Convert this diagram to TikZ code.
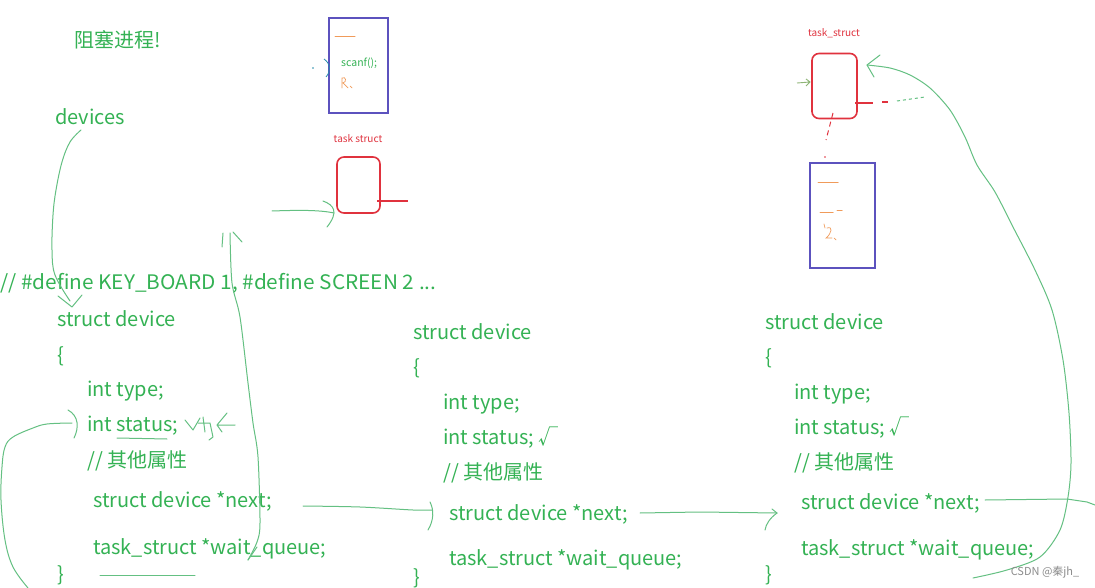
\documentclass[tikz,border=0pt]{standalone}
\usepackage{fontspec}
\setmainfont{Noto Sans CJK SC}
\usetikzlibrary{arrows.meta}
\definecolor{txtg}{RGB}{52,178,84}
\definecolor{peng}{RGB}{100,192,130}
\definecolor{tred}{RGB}{224,50,62}
\definecolor{bbox}{RGB}{92,82,190}
\definecolor{oran}{RGB}{240,155,90}
\definecolor{tealb}{RGB}{40,140,170}
\begin{document}
\begin{tikzpicture}[x=1pt,y=-1pt,
  code/.style={anchor=west,inner sep=0pt,yshift=-4.5pt,text=txtg,text height=0.75em,text depth=0.2em,font=\fontsize{20}{20}\selectfont},
  small/.style={inner sep=0pt,font=\fontsize{10}{10}\selectfont},
  pen/.style={draw=peng,line width=1pt,line cap=round,line join=round},
  redbox/.style={draw=tred,line width=1.6pt,rounded corners=7pt},
  bluebox/.style={draw=bbox,line width=1.6pt},
  orpen/.style={draw=oran,line width=1pt,line cap=round}]
\useasboundingbox (0,0) rectangle (1095,588);
\fill[white] (0,0) rectangle (1095,588);

% ---- titles ----
\node[code] (title) at (74,40) {阻塞进程!};
\node[code] (devs) at (55,117) {devices};
\node[code,xscale=1.04,transform shape] (def) at (0,282) {// \#define KEY\_BOARD 1, \#define SCREEN 2 ...};

% ---- left struct ----
\node[code] (l1) at (57,319) {struct device};
\node[code] (l2) at (57,355) {\{};
\node[code] (l3) at (87,389) {int type;};
\node[code] (l4) at (87,424) {int status;};
\node[code] (l5) at (87,460) {// 其他属性};
\node[code] (l6) at (93,500) {struct device *next;};
\node[code] (l7) at (93,547) {task\_struct *wait\_queue;};
\node[code] (l8) at (57,574) {\}};

% ---- middle struct ----
\node[code] (m1) at (413,332) {struct device};
\node[code] (m2) at (413,367) {\{};
\node[code] (m3) at (443,402) {int type;};
\node[code] (m4) at (443,437) {int status; √};
\node[code] (m5) at (443,472) {// 其他属性};
\node[code] (m6) at (449,513) {struct device *next;};
\node[code] (m7) at (449,558) {task\_struct *wait\_queue;};
\node[code] (m8) at (413,577) {\}};

% ---- right struct ----
\node[code] (r1) at (765,322) {struct device};
\node[code] (r2) at (765,357) {\{};
\node[code] (r3) at (794,392) {int type;};
\node[code] (r4) at (794,427) {int status; √};
\node[code] (r5) at (794,462) {// 其他属性};
\node[code] (r6) at (801,502) {struct device *next;};
\node[code] (r7) at (801,548) {task\_struct *wait\_queue;};
\node[code] (r8) at (765,574) {\}};

% ---- top middle process ----
\node[bluebox,minimum width=59pt,minimum height=95pt,inner sep=0pt] (pb1) at (358.5,65.5) {};
\draw[orpen] (335,37) -- (355,37);
\node[inner sep=0pt,anchor=west,text=txtg,font=\fontsize{10.5}{10.5}\selectfont] (scanf) at (341,63) {scanf();};
\draw[orpen,line width=0.7pt] (342,88) -- (342,78) .. controls (346,76) and (347,82) .. (343,83) -- (348,88) (350,86) -- (352,88);
\draw[tealb,line width=0.8pt] (324,59) .. controls (331,64) and (331,71) .. (326,77);
\fill[tealb] (313,68) circle (0.8pt);

\node[small,text=tred] (tsl1) at (358,139) {task struct};
\node[redbox,minimum width=43pt,minimum height=56pt,inner sep=0pt] (ts1) at (358.5,185) {};
\coordinate (ts1r) at (408,201);
\draw[tred,line width=1.2pt] (377,201) -- (ts1r);
\coordinate (ga1) at (272,211);
\draw[pen] (ga1) .. controls (300,210) and (320,210) .. (334,213);
\draw[pen] (323,201) .. controls (334,205) and (339,212) .. (327,227);

% ---- top right process ----
\node[small,text=tred] (tsl2) at (834,33) {task\_struct};
\node[redbox,minimum width=45pt,minimum height=65pt,inner sep=0pt] (ts2) at (834.5,86) {};
\draw[tred,line width=1.2pt] (855,103) -- (873,103) (882,102) -- (888,102);
\draw[peng,line width=1pt,dashed] (897,101) -- (925,97);
\draw[tred,line width=1pt,dash pattern=on 5pt off 4pt] (833,113) -- (826,140);
\fill[tred] (825,157) circle (0.8pt);
\draw[peng!70!oran,line width=0.9pt] (797,83) -- (810,82) (806,79) -- (810,82) -- (806,86);
\node[bluebox,minimum width=65pt,minimum height=105pt,inner sep=0pt] (pb2) at (842.5,215.5) {};
\draw[orpen] (818,183) -- (838,183);
\draw[orpen] (820,213) -- (833,213) (837,211) -- (842,211);
\draw[orpen,line width=0.7pt] (824,224) -- (825,228) (827,228) .. controls (833,226) and (832,233) .. (826,238) -- (832,238) (834,238) -- (836,240);

% ---- hand-drawn connectors ----
% devices -> define
\coordinate (dv0) at (81,130);
\coordinate (dv1) at (70,301);
\draw[pen] plot[smooth,tension=0.6] coordinates {(dv0) (70,142) (62,162) (56,190) (53,215) (52,250) (55,275) (dv1)};
\draw[pen] (58,296) -- (72,307) -- (82,295);

% long vertical line up to task struct
\coordinate (vt) at (230,233);
\coordinate (vb) at (248,560);
\draw[pen] plot[smooth,tension=0.5] coordinates {(vt) (232,283) (240,317) (248,383) (253,423) (258,457) (260,523) (257,542) (vb)};
\draw[pen] (223,233) -- (222,247) (233,232) -- (242,242);
\draw[pen] (248,560) -- (257,547);

% left loop from int status
\coordinate (lp0) at (72,423);
\coordinate (lp1) at (28,588);
\draw[pen] plot[smooth,tension=0.6] coordinates {(lp0) (47,424) (33,428) (13,437) (5,447) (2,467) (1,500) (5,540) (13,567) (lp1)};
\draw[pen] (68,410) .. controls (79,416) and (79,428) .. (74,438);

% underline status and scribble
\draw[pen] (117,438) -- (167,439);
\draw[pen] (185,420) -- (193,430) -- (200,418);
\draw[pen] (203,417) -- (205,432) (198,423) -- (210,423) -- (213,437) -- (209,440);
\draw[pen] (235,425) -- (217,425) (227,413) -- (217,425) -- (222,432);
% underline closing brace
\draw[pen] (100,575) -- (195,575);

% left next -> middle
\coordinate (n1a) at (303,506);
\coordinate (n1b) at (432,510);
\draw[pen] plot[smooth,tension=0.5] coordinates {(n1a) (360,507) (413,510) (n1b)};
\draw[pen] (430,502) .. controls (434,510) and (434,520) .. (428,530);

% middle next -> right
\coordinate (n2a) at (640,513);
\coordinate (n2b) at (777,513);
\draw[pen] (n2a) -- (700,512) -- (n2b);
\draw[pen] (772,509) -- (n2b) .. controls (770,518) and (766,524) .. (765,530);

% right next -> out
\coordinate (n3a) at (985,500);
\coordinate (n3b) at (1095,505);
\draw[pen] (n3a) -- (1067,499) -- (1087,502) -- (n3b);

% big right curve back to task_struct
\coordinate (bc0) at (973,578);
\coordinate (bc1) at (867,65);
\draw[pen] plot[smooth,tension=0.5] coordinates {(bc0) (1007,570) (1040,557) (1060,530) (1068,497) (1071,463) (1069,413) (1063,360) (1052,310) (1035,270) (1013,227) (995,192) (977,165) (965,137) (950,110) (930,88) (910,75) (890,68) (bc1)};
\draw[pen] (880,55) -- (bc1) -- (874,77);

% watermark
\node[small,text=black!45,font=\fontsize{11}{11}\selectfont] (wm) at (1045,572) {CSDN @秦jh\_};
\end{tikzpicture}
\end{document}
